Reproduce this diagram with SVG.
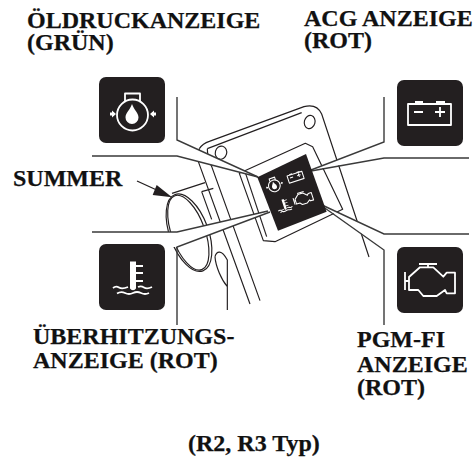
<svg xmlns="http://www.w3.org/2000/svg" width="475" height="461" viewBox="0 0 475 461">
<style>
text{font-family:"Liberation Serif","Times New Roman",serif;font-weight:bold;font-size:24px;fill:#111;stroke:#111;stroke-width:.25}
.tile{fill:#231f20}
.ic{fill:none;stroke:#fff;stroke-linejoin:round}
.icf{fill:#fff}
.wedge{fill:#fff;stroke:none}
.cl{fill:none;stroke:#3a3a3a;stroke-width:1.4}
</style>
<defs>
<g id="oil">
<path class="ic" d="M26,24V16.500H41V24"/><circle class="ic" cx="33.500" cy="38" r="15.500"/>
<path class="icf" d="M33,27C35,33 39.500,36 39.500,40.500A6.500,6.500 0 0 1 26.500,40.500C26.500,36 31,33 33,27Z"/>
<path class="icf" d="M11,35.500H13V33.500L17,37L13,40.500V38.500H11ZM57,35.500H55V33.500L51,37L55,40.500V38.500H57Z"/>
</g>
<g id="bat">
<path class="ic" d="M11,24H54V45H11Z"/>
<path class="icf" d="M18,21H26V24H18ZM39,21H48V24H39Z"/>
<path class="ic" d="M17,32H26M38,32H48M43,27V37"/>
</g>
<g id="tmp">
<path class="icf" d="M31,17.500H37V21H44V23H37V28H44V30H37V36H44V38H37V44.500A3.500,3.500 0 0 1 31,44.500Z"/>
<path class="ic" d="M14,44Q17,41.500 20,43.500T29,43M39,43Q42,41.500 45,43.500T53,43M18,49.500Q22,47 26,49T34,49T42,49T50,49"/>
</g>
<g id="eng">
<path class="ic" d="M12,30L23,20.300H36.300L46.300,29.700L49.700,25.700H58V46.300H49.700L48,43L39.700,49H26.300L21.300,43H12Z"/>
<path class="ic" d="M22,17H40M31,17V20M8,25V43M8,34H12"/>
</g>
</defs>

<g id="device" transform="translate(150,90) scale(0.33333)">
<g fill="none" stroke="#231f20" stroke-width="3.500" stroke-linejoin="round">
<path d="M148,176C155,165 165,158 178,154L462,50C485,44 505,50 515,72L657,501"/>
<path d="M172,176L455,68"/>
<path d="M148,176L145,215L300,642"/>
<path d="M172,176C172,195 178,215 186,232L330,632"/>
<ellipse cx="213" cy="188" rx="17" ry="20" transform="rotate(15 213 188)"/>
<ellipse cx="479" cy="96" rx="16" ry="20" transform="rotate(15 479 96)"/>
<path d="M268,250L466,160L488,170L578,358L375,455L340,452Z"/>
<path d="M285,245L350,440"/>
<path d="M66,310L165,278"/>
<path d="M155,305L190,295M155,305L185,388"/>
<ellipse cx="115" cy="428" rx="50" ry="118" transform="rotate(-20 115 428)"/>
<ellipse cx="117" cy="428" rx="58" ry="122" transform="rotate(-20 117 428)"/>
<path d="M195,500C200,482 215,478 232,510V660M195,500C197,530 215,570 232,590"/>
</g>
</g>

<g id="connectors">
<path class="wedge" d="M177,140L258,177L177,156Z"/>
<path class="wedge" d="M92,232H177L268,211L270,212L177,247H92Z"/>
<path class="wedge" d="M384,142L311,170L384,158Z"/>
<path class="wedge" d="M384,234L322,205L384,250Z"/>
<path class="cl" d="M177,97V140L258,177"/>
<path class="cl" d="M92,156H177L258,177"/>
<path class="cl" d="M92,232H177L268,211"/>
<path class="cl" d="M177,325V247L270,212"/>
<path class="cl" d="M384,97V142L311,170"/>
<path class="cl" d="M469,158H384L311,171"/>
<path class="cl" d="M469,234H384L322,205"/>
<path class="cl" d="M384,325V250L322,206"/>
</g>

<g id="panel" transform="translate(150,90) scale(0.33333)">
<path d="M322,262L468,192L530,365L384,422Z" fill="#231f20"/>
<path d="M-39,273L20,300" stroke="#231f20" stroke-width="4"/>
<path d="M20,285L8,315L66,322Z" fill="#231f20"/>
</g>

<g id="small-icons" stroke-width="2.800">
<use href="#oil" transform="translate(274.300,185) rotate(-18) scale(0.38) translate(-34,-36)"/>
<use href="#bat" transform="translate(295.700,177) rotate(-18) scale(0.36) translate(-33,-34)"/>
<use href="#tmp" transform="translate(284,205) rotate(-18) scale(0.38) translate(-33,-33)"/>
<use href="#eng" transform="translate(303,198) rotate(-18) scale(0.38) translate(-33,-33)"/>
</g>

<g stroke-width="1.800">
<g id="oil-lamp"><rect class="tile" x="99" y="77" width="66" height="66" rx="7"/><use href="#oil" x="99" y="77"/></g>
<g id="acg-lamp"><rect class="tile" x="397" y="80" width="66" height="66" rx="7"/><use href="#bat" x="397" y="80"/></g>
<g id="temp-lamp"><rect class="tile" x="99" y="244" width="66" height="66" rx="7"/><use href="#tmp" x="99" y="244"/></g>
<g id="pgm-lamp"><rect class="tile" x="397" y="247" width="66" height="66" rx="7"/><use href="#eng" x="397" y="247"/></g>
</g>

<g id="labels">
<text x="27" y="28">ÖLDRUCKANZEIGE</text>
<text x="27" y="50">(GRÜN)</text>
<text x="304" y="26">ACG ANZEIGE</text>
<text x="304" y="48">(ROT)</text>
<text x="13" y="186">SUMMER</text>
<text x="33" y="344">ÜBERHITZUNGS-</text>
<text x="33" y="368">ANZEIGE (ROT)</text>
<text x="357" y="347">PGM-FI</text>
<text x="357" y="372">ANZEIGE</text>
<text x="357" y="395">(ROT)</text>
<text x="188" y="451">(R2, R3 Typ)</text>
</g>
</svg>
